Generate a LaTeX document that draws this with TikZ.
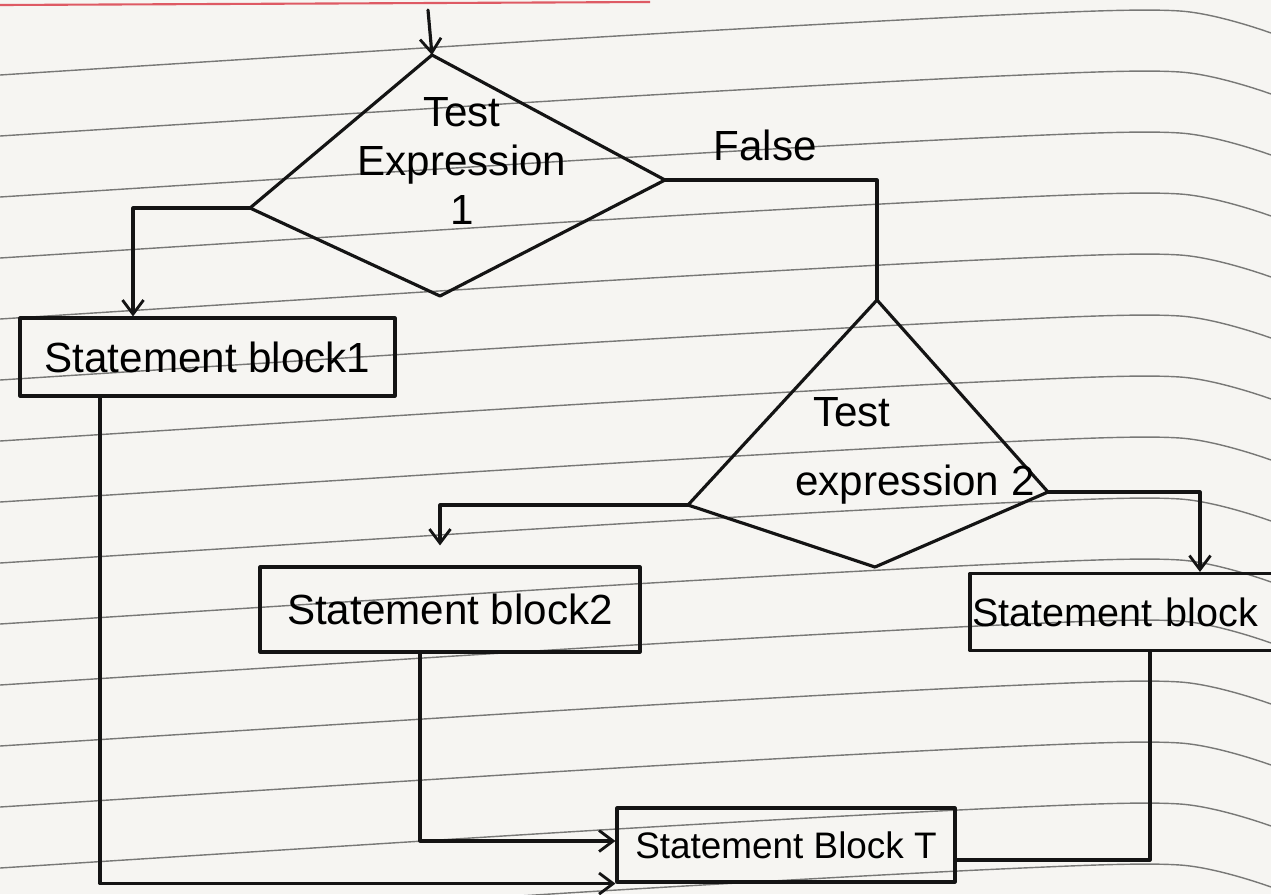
\documentclass[tikz,border=0pt]{standalone}
\usepackage{fontspec}
\setmainfont{Liberation Sans}
\usetikzlibrary{arrows.meta,calc}
\definecolor{paper}{RGB}{246,245,242}
\definecolor{ruling}{RGB}{120,120,118}
\definecolor{margin}{RGB}{222,90,100}
\begin{document}
\begin{tikzpicture}[x=0.02cm,y=-0.02cm,
  ink/.style={line width=1.8pt, draw=black!92, line join=round, line cap=round},
  flow/.style={ink, -{Straight Barb[length=8pt,width=12pt,line width=1.6pt]}},
  stmt/.style={ink, rectangle, inner sep=0pt, font=\fontsize{24}{28}\selectfont},
  lbl/.style={font=\fontsize{24}{28}\selectfont, inner sep=0pt, align=center},
  rulingline/.style={draw=ruling, line width=0.8pt},
]
\useasboundingbox (0,0) rectangle (1271,894);
\clip (0,0) rectangle (1271,894);

% notebook page
\fill[paper] (0,0) rectangle (1271,894);
\draw[margin, line width=1.2pt] (0,5) -- (650,2);
\foreach \k in {0,...,14} {
  \pgfmathsetmacro{\ya}{75+61*\k}
  \pgfmathsetmacro{\yb}{\ya-38}
  \pgfmathsetmacro{\yc}{\ya-60}
  \pgfmathsetmacro{\yd}{\ya-64}
  \pgfmathsetmacro{\ye}{\ya-42}
  \draw[rulingline] plot[smooth] coordinates {(0,\ya) (600,\yb) (1000,\yc) (1180,\yd) (1271,\ye)};
}

% first decision
\coordinate (start) at (428,10);
\coordinate (d1t) at (432,55);
\coordinate (d1r) at (665,180);
\coordinate (d1b) at (440,296);
\coordinate (d1l) at (250,208);
\draw[ink] (d1t) -- (d1r) -- (d1b) -- (d1l) -- cycle;
\node[lbl] (d1text) at (462,161) {Test\\Expression\\1};
\draw[flow] (start) -- (d1t);

% second decision
\coordinate (d2t) at (877,300);
\coordinate (d2r) at (1048,492);
\coordinate (d2b) at (875,567);
\coordinate (d2l) at (688,505);
\draw[ink] (d2t) -- (d2r) -- (d2b) -- (d2l) -- cycle;
\node[lbl] (d2texta) at (852,412) {Test};
\node[lbl] (d2textb) at (915,485) {expression 2};

% statement blocks
\node[stmt, minimum width=7.5cm, minimum height=1.56cm] (box1) at (207.5,357) {Statement block1};
\node[stmt, minimum width=7.6cm, minimum height=1.7cm] (box2) at (450,609.5) {Statement block2};
\node[stmt, minimum width=7cm, minimum height=1.54cm, text width=6.9cm, align=left,
      font=\fontsize{22.5}{27}\selectfont] (box3) at (1145,612) {Statement block};
\node[stmt, minimum width=6.76cm, minimum height=1.48cm, font=\fontsize{21}{25}\selectfont] (box4) at (786,845) {Statement Block T};

% connectors
\draw[flow] (d1l) -| ([xshift=-1.49cm]box1.north);
\draw[ink] (d1r) -| (d2t);
\node[lbl] (false) at (765,145) {False};
\draw[flow] (d2l) -| ([xshift=-0.2cm,yshift=0.4cm]box2.north);
\draw[flow] (d2r) -| ([xshift=1.1cm]box3.north);
\draw[ink] ([xshift=0.1cm]box3.south) |- ([yshift=-0.3cm]box4.east);
\draw[flow] ([xshift=-0.6cm]box2.south) |- ([yshift=0.08cm]box4.west);
\draw[flow] ([xshift=-2.15cm]box1.south) |- (box4.south west);
\end{tikzpicture}
\end{document}
